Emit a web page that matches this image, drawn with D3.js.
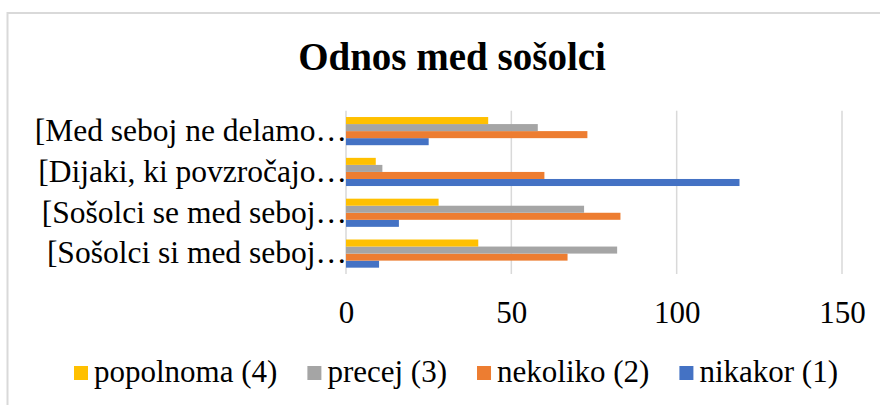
<!DOCTYPE html>
<html>
<head>
<meta charset="utf-8">
<script src="https://cdn.jsdelivr.net/npm/d3@7"></script>
<style>
body{margin:0;background:#fff;}
</style>
</head>
<body>
<script>
// categories, bottom to top as in the sheet
var categories = ['[Sošolci si med seboj…','[Sošolci se med seboj…','[Dijaki, ki povzročajo…','[Med seboj ne delamo…'];
var seriesNames = ['nikakor (1)','nekoliko (2)','precej (3)','popolnoma (4)'];
var seriesColors = ['#4472C4','#ED7D31','#A5A5A5','#FFC000'];
var nikakor = [10,16,119,25];
var nekoliko = [67,83,60,73];
var precej = [82,72,11,58];
var popolnoma = [40,28,9,43];
var ticks = [0,50,100,150];

var values = [nikakor,nekoliko,precej,popolnoma];
var serif = "'Liberation Serif','Times New Roman',serif";

var svg = d3.select('body').append('svg').attr('width',880).attr('height',405);

// chart frame (cropped on right and bottom)
svg.append('rect').attr('x',7.5).attr('y',13).attr('width',1000).attr('height',500)
  .style('fill','none').style('stroke','#d9d9d9').style('stroke-width',2);

svg.append('text').attr('x',452).attr('y',70).attr('text-anchor','middle')
  .style('font-family',serif).style('font-size','39px').style('font-weight','bold')
  .text('Odnos med sošolci');

var x = d3.scaleLinear().domain([0,150]).range([346,842]);
var y = d3.scaleBand().domain(categories.slice().reverse()).range([110.7,274])
  .paddingInner(0.31).paddingOuter(0.155);
// top to bottom inside a group: popolnoma, precej, nekoliko, nikakor
var inner = d3.scaleBand().domain([3,2,1,0]).range([0,y.bandwidth()]);

svg.append('g').selectAll('line').data(ticks).enter().append('line')
  .attr('x1',function(d){return x(d);}).attr('x2',function(d){return x(d);})
  .attr('y1',110.7).attr('y2',274)
  .style('stroke','#d9d9d9').style('stroke-width',1.5);

var groups = svg.append('g').selectAll('.grp').data(categories).enter().append('g')
  .attr('class','grp')
  .attr('transform',function(d){return 'translate(0,'+y(d)+')';});

groups.selectAll('rect').data(function(d,i){
    return values.map(function(s,k){return {k:k,v:s[i]};});
  }).enter().append('rect')
  .attr('x',x(0))
  .attr('y',function(d){return inner(d.k);})
  .attr('width',function(d){return x(d.v)-x(0);})
  .attr('height',inner.bandwidth())
  .style('fill',function(d){return seriesColors[d.k];});

svg.append('g').selectAll('text').data(categories).enter().append('text')
  .attr('x',347).attr('y',function(d){return y(d)+y.bandwidth()/2;})
  .attr('dy','0.31em').attr('text-anchor','end')
  .style('font-family',serif)
  .style('font-size','31.5px').style('fill','#000').text(function(d){return d;});

var axis = svg.append('g').attr('transform','translate(0,300)')
  .call(d3.axisBottom(x).tickValues(ticks).tickSize(0).tickPadding(0));
axis.select('.domain').remove();
axis.selectAll('text').attr('dy','0.73em')
  .style('font-size','31px').style('font-family',serif).style('fill','#000');

// legend, order popolnoma -> nikakor
var legend = svg.append('g');
var order = [3,2,1,0];
var lx = 74;
order.forEach(function(k){
  legend.append('rect').attr('x',lx).attr('y',366).attr('width',14).attr('height',14)
    .style('fill',seriesColors[k]);
  var t = legend.append('text').attr('x',lx+20).attr('y',382)
    .style('font-family',serif).style('font-size','31px').style('fill','#000')
    .text(seriesNames[k]);
  lx = lx + 20 + t.node().getComputedTextLength() + 30;
});
</script>
</body>
</html>
